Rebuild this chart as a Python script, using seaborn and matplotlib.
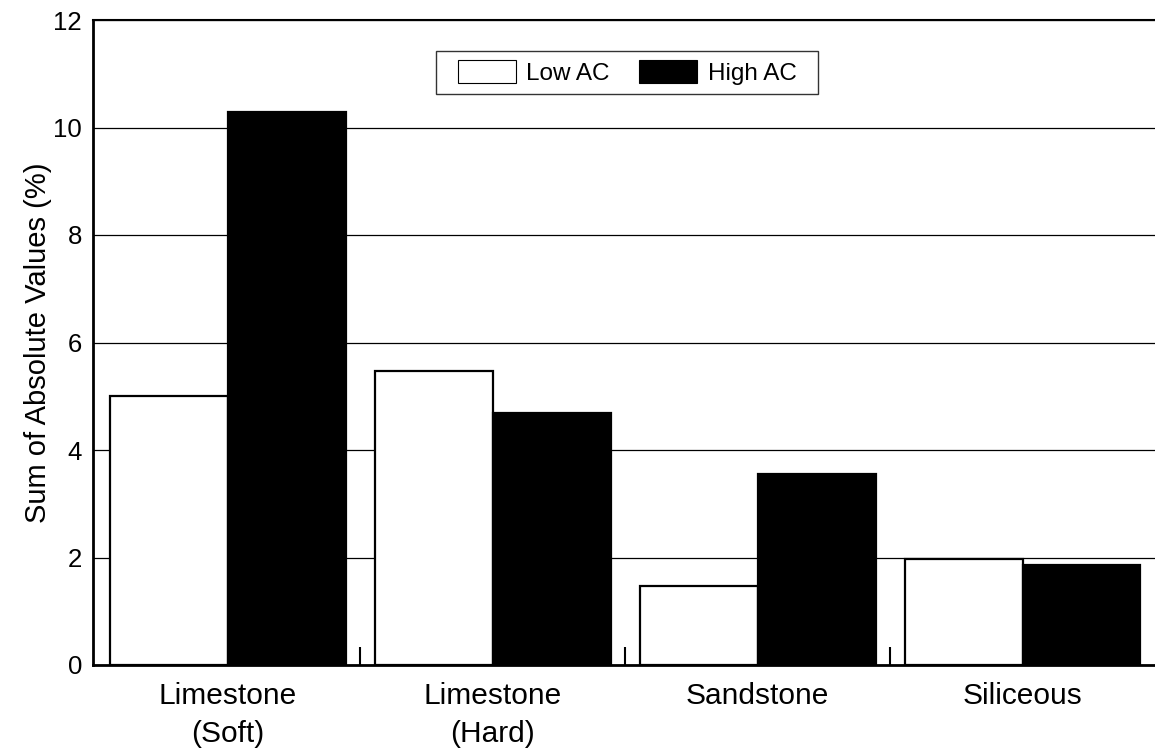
import matplotlib
matplotlib.use("Agg")
import matplotlib.pyplot as plt
import seaborn as sns
import pandas as pd
from matplotlib.patches import Rectangle

categories = ["Limestone\n(Soft)", "Limestone\n(Hard)", "Sandstone", "Siliceous"]
series = ["Low AC", "High AC"]
low_ac = [5.0, 5.47, 1.47, 1.97]
high_ac = [10.28, 4.68, 3.56, 1.86]
y_ticks = [0, 2, 4, 6, 8, 10, 12]

df = pd.DataFrame({
    "category": categories * 2,
    "series": [series[0]] * len(categories) + [series[1]] * len(categories),
    "value": low_ac + high_ac,
})

sns.set_theme(style="white")
plt.rcParams["font.family"] = ["Liberation Sans", "DejaVu Sans"]
plt.rcParams.update({"text.color": "black", "axes.labelcolor": "black",
                     "xtick.color": "black", "ytick.color": "black"})

fig = plt.figure(figsize=(11.55, 7.48), dpi=100)
ax = fig.add_axes([93 / 1155, 1 - 665 / 748, 1 - 93 / 1155, (665 - 20) / 748])

sns.barplot(data=df, x="category", y="value", hue="series", order=categories,
            hue_order=series, palette={"Low AC": "white", "High AC": "black"},
            edgecolor="black", linewidth=1.6, width=0.89, ax=ax, errorbar=None,
            saturation=1)

ax.set_xlim(-0.51, 3.5)
ax.set_ylim(0, 12)
ax.set_yticks(y_ticks)
ax.set_yticklabels([str(t) for t in y_ticks], fontsize=18.5)
ax.yaxis.grid(True, color="black", linewidth=0.9)
ax.set_axisbelow(True)

ax.set_xlabel("")
ax.set_ylabel("Sum of Absolute Values (%)", fontsize=21, labelpad=1)
ax.tick_params(axis="y", length=0, pad=8, colors="black")
ax.tick_params(axis="x", which="major", length=0, pad=12, labelsize=21.5, colors="black")
for lbl in ax.get_xticklabels():
    lbl.set_linespacing(1.45)
ax.set_xticks([0.5, 1.5, 2.5], minor=True)
ax.tick_params(axis="x", which="minor", direction="in", length=13, width=1.5,
               color="black", bottom=True, top=False)

for s in ["left", "bottom"]:
    ax.spines[s].set_color("black")
    ax.spines[s].set_linewidth(2)
ax.spines["top"].set_color("black")
ax.spines["top"].set_linewidth(1.5)
ax.spines["right"].set_visible(False)

leg = ax.legend(loc="center", bbox_to_anchor=(0.503, 0.9186), ncol=2,
                frameon=False, fontsize=17.5, handlelength=2.4, handleheight=1.1,
                handletextpad=0.42, columnspacing=1.2, borderpad=0.3)
for h in leg.legend_handles:
    h.set_edgecolor("black")
    h.set_linewidth(0.8)
for t in leg.get_texts():
    t.set_color("black")

x0 = (436 - 93) / 1062
w = (818 - 436) / 1062
y0 = (665 - 94) / 645
hgt = (94 - 51) / 645
ax.add_patch(Rectangle((x0, y0), w, hgt, transform=ax.transAxes, fill=True,
                       facecolor="white", edgecolor="#333333", linewidth=1.0,
                       zorder=4))
leg.set_zorder(5)

fig.savefig("out.png", dpi=100)
